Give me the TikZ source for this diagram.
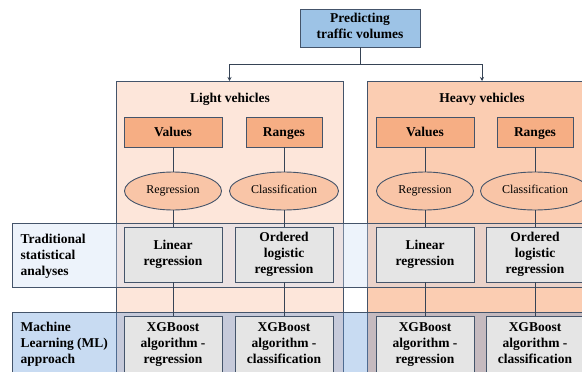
\documentclass[tikz,border=0pt]{standalone}
\usepackage{fontspec}
\setmainfont{Liberation Serif}
\usepackage{xcolor}
\usetikzlibrary{positioning, shapes, arrows.meta, calc}

\definecolor{slate}{RGB}{68,84,106}
\definecolor{topblue}{RGB}{157,195,230}
\definecolor{valorange}{RGB}{246,174,132}
\definecolor{ellorange}{RGB}{249,197,167}
\definecolor{lightpanel}{RGB}{253,230,218}
\definecolor{heavypanel}{RGB}{251,205,178}
\definecolor{tradblue}{RGB}{204,221,244}
\definecolor{mlblue}{RGB}{98,152,218}
\definecolor{boxgrey}{RGB}{229,229,229}

\newcommand{\boxstrut}{\rule[-3.5pt]{0pt}{15pt}}

\begin{document}
\begin{tikzpicture}[x=1pt, y=-1pt,
    txt/.style={font=\bfseries\fontsize{13.5}{16}\selectfont, align=center},
    box/.style={txt, draw=slate, line width=0.9pt, inner sep=0pt,
                execute at begin node=\boxstrut, execute at end node=\boxstrut},
    panel/.style={draw=slate, line width=0.9pt, inner sep=0pt},
    band/.style={draw=slate, line width=0.9pt, inner sep=0pt, fill opacity=0.35},
    ell/.style={ellipse, draw=slate, line width=0.9pt, fill=ellorange, inner sep=0pt,
                minimum height=38, font=\fontsize{12}{14}\selectfont,
                text height=8.5pt, text depth=3pt},
    conn/.style={draw=slate!80!black, line width=0.7pt}]

        \useasboundingbox (0,0) rectangle (582,372);
        \clip (0,0) rectangle (582,372);

        % Top node
        \node[box, fill=topblue, minimum width=120, minimum height=38] (top) at (360,28)
              {Predicting\\traffic volumes};

        % Vehicle panels
        \node[panel, fill=lightpanel, minimum width=227, minimum height=320, anchor=north] (light) at (229.5,81) {};
        \node[panel, fill=heavypanel, minimum width=230, minimum height=320, anchor=north] (heavy) at (482,81) {};
        \node[txt] (lighthead) at (230,99) {Light vehicles};
        \node[txt] (heavyhead) at (482,99) {Heavy vehicles};

        \draw[conn, -{Stealth[length=4pt, width=4pt]}] (top.south) -- ++(0,17) -| (light.north);
        \draw[conn, -{Stealth[length=4pt, width=4pt]}] (top.south) -- ++(0,17) -| (heavy.north);

        % Method bands
        \node[band, fill=tradblue, minimum width=600, minimum height=64, anchor=north west] (trad) at (12,223) {};
        \node[band, fill=mlblue, minimum width=600, minimum height=80, anchor=north west] (ml) at (12,312) {};
        \node[txt, align=left, anchor=north west] (tradlab) at (17,231) {Traditional\\statistical\\analyses};
        \node[txt, align=left, anchor=north west] (mllab) at (17,319) {Machine\\Learning (ML)\\approach};

        % Boxes in each panel
        \foreach \p/\xa/\xb in {l/173/284, h/425/535} {
          \node[box, fill=valorange, minimum width=98, minimum height=30] (\p val) at (\xa,132) {Values};
          \node[box, fill=valorange, minimum width=76, minimum height=30] (\p rng) at (\xb,132) {Ranges};

          \node[ell, minimum width=97] (\p reg) at (\xa,191) {Regression};
          \node[ell, minimum width=109] (\p cls) at (\xb,191) {Classification};

          \node[box, fill=boxgrey, minimum width=98, minimum height=55] (\p lin) at (\xa,254.5) {Linear\\regression};
          \node[box, fill=boxgrey, minimum width=98, minimum height=55] (\p olr) at (\xb,254.5) {Ordered\\logistic\\regression};

          \node[box, fill=boxgrey, minimum width=98, minimum height=58] (\p xgr) at (\xa,345) {XGBoost\\algorithm -\\regression};
          \node[box, fill=boxgrey, minimum width=98, minimum height=58] (\p xgc) at (\xb,345) {XGBoost\\algorithm -\\classification};

          \draw[conn] (\p val) -- (\p reg);
          \draw[conn] (\p reg) -- (\p lin);
          \draw[conn] (\p lin) -- (\p xgr);
          \draw[conn] (\p rng) -- (\p cls);
          \draw[conn] (\p cls) -- (\p olr);
          \draw[conn] (\p olr) -- (\p xgc);
        }
      \end{tikzpicture}
\end{document}
